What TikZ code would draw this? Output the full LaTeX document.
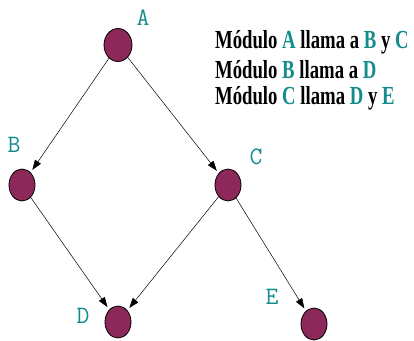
\documentclass[tikz,border=0pt]{standalone}
\usepackage{fontspec}
\setmainfont{Liberation Serif}
\usetikzlibrary{arrows.meta,shapes.geometric}
\definecolor{nodefill}{RGB}{140,40,90}
\definecolor{tealc}{RGB}{20,140,140}
\tikzset{
  modnode/.style={draw=black, line width=0.8pt, fill=nodefill, ellipse, minimum width=26pt, minimum height=32pt, inner sep=0pt},
  lab/.style={text=tealc, font=\ttfamily\fontsize{25}{25}\selectfont, inner sep=0pt},
  conn/.style={-{Triangle[length=10pt,width=7pt]}, line width=0.5pt, shorten >=3pt},
  txt/.style={anchor=west, inner sep=0pt, font=\bfseries\fontsize{26}{26}\selectfont, xscale=0.72}
}
\newcommand{\tl}[1]{\textcolor{tealc}{#1}}
\begin{document}
\begin{tikzpicture}[x=1pt,y=-1pt]
\useasboundingbox (0,0) rectangle (414,340);
\node[modnode, minimum width=28pt, minimum height=33pt] (A) at (118,45) {};
\node[modnode] (B) at (22,185) {};
\node[modnode] (C) at (228,185) {};
\node[modnode] (D) at (118,322) {};
\node[modnode] (E) at (314,324) {};
\node[lab] (lA) at (143,18) {A};
\node[lab] (lB) at (14,145) {B};
\node[lab] (lC) at (256,157) {C};
\node[lab] (lD) at (83,316) {D};
\node[lab] (lE) at (272,297) {E};
\draw[conn] (A) -- (B);
\draw[conn] (A) -- (C);
\draw[conn] (B) -- (D);
\draw[conn] (C) -- (D);
\draw[conn] (C) -- (E);
\node[txt] (t1) at (215,42) {Módulo \tl{A} llama a \tl{B} y \tl{C}};
\node[txt] (t2) at (215,70) {Módulo \tl{B} llama a \tl{D}};
\node[txt] (t3) at (215,98) {Módulo \tl{C} llama \tl{D} y \tl{E}};
\end{tikzpicture}
\end{document}
